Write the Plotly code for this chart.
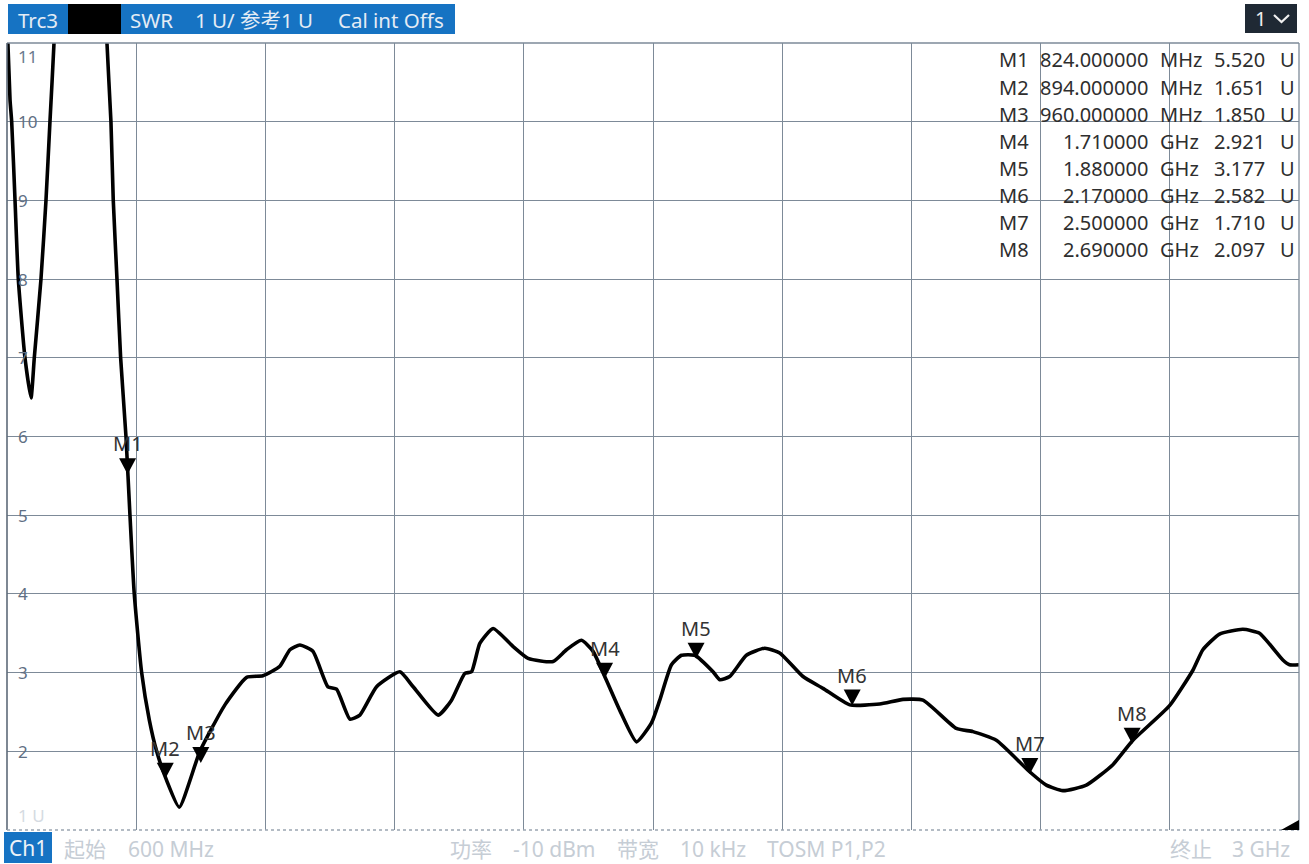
import plotly.graph_objects as go

# ---------------- data ----------------
freq_mhz = [600.0, 605.6, 608.7, 614.9, 621.0, 633.4, 644.6, 650.7, 663.1, 672.4, 679.8, 687.3,
            694.7, 735.0, 780.1,
            785.7, 793.1, 797.4, 804.3, 811.1, 821.0, 828.4, 836.4, 850.1, 864.3, 878.0, 896.5,
            919.9,
            958.4, 1004.8, 1045.1, 1075.4, 1106.9, 1125.5, 1144.1, 1168.2, 1196.1, 1212.2,
            1236.9, 1255.5, 1286.5, 1329.8, 1354.5, 1400.9, 1425.8, 1450.5, 1462.9, 1478.3,
            1503.0, 1540.2, 1568.0, 1614.4, 1639.3, 1667.2, 1688.7, 1710.4, 1738.3, 1769.3,
            1797.2, 1812.6, 1834.3, 1852.9, 1877.5, 1911.5, 1924.0, 1942.5, 1973.5, 2007.5,
            2035.4, 2078.7, 2115.8, 2165.4, 2221.1, 2264.4, 2301.5, 2363.5, 2394.4, 2437.8,
            2499.6, 2530.6, 2561.5, 2604.9, 2654.3, 2691.4, 2759.6, 2802.9, 2821.4, 2852.4,
            2895.7, 2926.7, 2970.0, 2982.4, 3000.0]
swr = [11.3, 10.28, 10.0, 9.0, 8.0, 7.0, 6.49, 7.0, 8.0, 9.0, 10.0, 11.0,
       12.5, 16.0, 12.5,
       11.0, 10.0, 9.0, 8.0, 7.0, 6.0, 5.0, 4.0, 3.0, 2.4, 2.0, 1.63,
       1.29,
       2.0, 2.59, 2.94, 2.96, 3.08, 3.29, 3.35, 3.27, 2.82, 2.79,
       2.41, 2.46, 2.82, 3.01, 2.82, 2.46, 2.65, 2.99, 3.01, 3.37,
       3.56, 3.33, 3.18, 3.14, 3.29, 3.41, 3.27, 2.95, 2.52, 2.12,
       2.36, 2.65, 3.10, 3.22, 3.22, 3.01, 2.91, 2.95, 3.22, 3.31,
       3.25, 2.95, 2.80, 2.59, 2.60, 2.66, 2.65, 2.29, 2.25, 2.14,
       1.74, 1.57, 1.50, 1.57, 1.83, 2.14, 2.58, 3.03, 3.29, 3.49,
       3.55, 3.50, 3.16, 3.10, 3.10]

marker_names = ["M1", "M2", "M3", "M4", "M5", "M6", "M7", "M8"]
marker_freq_mhz = [824, 894, 960, 1710, 1880, 2170, 2500, 2690]
marker_freq_text = ["824.000000", "894.000000", "960.000000", "1.710000",
                    "1.880000", "2.170000", "2.500000", "2.690000"]
marker_units = ["MHz", "MHz", "MHz", "GHz", "GHz", "GHz", "GHz", "GHz"]
marker_values = [5.520, 1.651, 1.850, 2.921, 3.177, 2.582, 1.710, 2.097]

y_tick_vals = [11, 10, 9, 8, 7, 6, 5, 4, 3, 2, 1]
y_tick_text = ["11", "10", "9", "8", "7", "6", "5", "4", "3", "2", "1 U"]
x_start, x_stop, x_div = 600, 3000, 240

header_trace = "Trc3"
header_info = ["SWR", "1 U/ 参考1 U", "Cal int Offs"]
footer_left = ["起始", "600 MHz"]
footer_mid = ["功率", "-10 dBm", "带宽", "10 kHz", "TOSM P1,P2"]
footer_right = ["终止", "3 GHz"]

# ---------------- layout helpers ----------------
W, H = 1309, 864
L, R, T, B = 7, 10, 43, 34
PW, PH = W - L - R, H - T - B
FONT = "Noto Sans, Noto Sans CJK SC, sans-serif"
GRID = "#7d8a98"


def X(px):
    return (px - L) / PW


def Y(py):
    return (H - B - py) / PH


fig = go.Figure()
fig.add_trace(go.Scatter(x=freq_mhz, y=swr, mode="lines",
                         line=dict(color="black", width=3.6, shape="spline", smoothing=0.5),
                         hoverinfo="skip", showlegend=False))

shapes = []
annotations = []

# plot border
shapes.append(dict(type="line", xref="paper", yref="paper", x0=0, x1=1, y0=1, y1=1,
                   line=dict(color=GRID, width=1.3)))
shapes.append(dict(type="line", xref="paper", yref="paper", x0=0, x1=0, y0=0, y1=1,
                   line=dict(color="#5d6a78", width=1.6)))
shapes.append(dict(type="line", xref="paper", yref="paper", x0=1, x1=1, y0=0, y1=1,
                   line=dict(color=GRID, width=1.3)))
shapes.append(dict(type="line", xref="paper", yref="paper", x0=0, x1=1, y0=0, y1=0,
                   line=dict(color="#9aa5b1", width=1.5, dash="dot")))

# y labels (white patches hide gridlines behind them)
for v, t in zip(y_tick_vals, y_tick_text):
    if v == y_tick_vals[0]:
        shift, col = -13, "#6a7a8e"
    elif v == y_tick_vals[-1]:
        shift, col = 15, "#d5dbe2"
    else:
        shift, col = 0, "#5f6f84"
        shapes.append(dict(type="rect", layer="between", xref="paper", yref="y",
                           xsizemode="pixel", ysizemode="pixel", xanchor=0, yanchor=v,
                           x0=6, x1=33, y0=-8, y1=8, fillcolor="white", line=dict(width=0)))
    annotations.append(dict(xref="paper", yref="y", x=X(16), y=v, text=t, showarrow=False,
                            xanchor="left", yanchor="middle", yshift=shift,
                            font=dict(family=FONT, size=17, color=col)))

# markers on trace
for n, f, v in zip(marker_names, marker_freq_mhz, marker_values):
    shapes.append(dict(type="path", xref="x", yref="y", xsizemode="pixel", ysizemode="pixel",
                       xanchor=f, yanchor=v, path="M-8.5,16 L8.5,16 L0,0 Z",
                       fillcolor="black", line=dict(width=0)))
    annotations.append(dict(xref="x", yref="y", x=f, y=v, text=n, showarrow=False,
                            xanchor="center", yanchor="bottom", yshift=15,
                            font=dict(family=FONT, size=20, color="#333333")))

# marker table
for i, (n, ft, u, v) in enumerate(zip(marker_names, marker_freq_text, marker_units, marker_values)):
    py = 60 + 27.1 * i
    common = dict(xref="paper", yref="paper", y=Y(py), showarrow=False, yanchor="middle",
                  font=dict(family=FONT, size=20, color="#2e2e2e"))
    annotations.append(dict(x=X(997), text=n, xanchor="left", **common))
    annotations.append(dict(x=X(1150), text=ft, xanchor="right", **common))
    annotations.append(dict(x=X(1158), text=u, xanchor="left", **common))
    annotations.append(dict(x=X(1267), text=f"{v:.3f}", xanchor="right", **common))
    annotations.append(dict(x=X(1278), text="U", xanchor="left", **common))

# header
BLUE = "#1673c3"
HTXT = "#e4ecf5"
shapes.append(dict(type="rect", xref="paper", yref="paper", x0=X(8), x1=X(455), y0=Y(34), y1=Y(4),
                   fillcolor=BLUE, line=dict(width=0)))
shapes.append(dict(type="rect", xref="paper", yref="paper", x0=X(68), x1=X(121), y0=Y(34), y1=Y(4),
                   fillcolor="black", line=dict(width=0)))
for t, px in [(header_trace, 16), (header_info[0], 128), (header_info[1], 193), (header_info[2], 336)]:
    annotations.append(dict(xref="paper", yref="paper", x=X(px), y=Y(20), text=t,
                            showarrow=False, xanchor="left", yanchor="middle",
                            font=dict(family=FONT, size=20.5, color=HTXT)))
shapes.append(dict(type="rect", xref="paper", yref="paper", x0=X(1245), x1=X(1297), y0=Y(33), y1=Y(4),
                   fillcolor="#1f2934", line=dict(width=0)))
annotations.append(dict(xref="paper", yref="paper", x=X(1268), y=Y(19), text="1",
                        showarrow=False, xanchor="right", yanchor="middle",
                        font=dict(family=FONT, size=20, color="#f0f0f0")))
shapes.append(dict(type="path", xref="paper", yref="paper",
                   path=f"M{X(1274)},{Y(15)} L{X(1281.5)},{Y(22)} L{X(1289)},{Y(15)}",
                   line=dict(color="#f0f0f0", width=2.2)))

# bottom-right corner indicator
shapes.append(dict(type="path", xref="paper", yref="paper",
                   path=f"M{X(1281)},{Y(830)} L{X(1299)},{Y(830)} L{X(1299)},{Y(820)} Z",
                   fillcolor="black", line=dict(width=0)))

# footer
shapes.append(dict(type="rect", xref="paper", yref="paper", x0=X(4), x1=X(52), y0=Y(863), y1=Y(832),
                   fillcolor=BLUE, line=dict(width=0)))
annotations.append(dict(xref="paper", yref="paper", x=X(28), y=Y(848), text="Ch1",
                        showarrow=False, xanchor="center", yanchor="middle",
                        font=dict(family=FONT, size=21, color="#eef3f8")))
FOOT = "#c6cdd5"
foot_items = [(footer_left[0], 62), (footer_left[1], 126),
              (footer_mid[0], 448), (footer_mid[1], 511), (footer_mid[2], 615),
              (footer_mid[3], 678), (footer_mid[4], 765),
              (footer_right[0], 1168), (footer_right[1], 1230)]
for t, px in foot_items:
    annotations.append(dict(xref="paper", yref="paper", x=X(px), y=Y(849), text=t,
                            showarrow=False, xanchor="left", yanchor="middle",
                            font=dict(family=FONT, size=21, color=FOOT)))

fig.update_layout(
    width=W, height=H,
    margin=dict(l=L, r=R, t=T, b=B, pad=0),
    paper_bgcolor="white", plot_bgcolor="white",
    showlegend=False,
    shapes=shapes, annotations=annotations,
    xaxis=dict(range=[x_start, x_stop], tickvals=list(range(x_start + x_div, x_stop, x_div)),
               showticklabels=False, ticks="", showgrid=True, gridcolor=GRID, gridwidth=1.3,
               zeroline=False, showline=False, fixedrange=True),
    yaxis=dict(range=[1, 11], tickvals=y_tick_vals[1:-1], showticklabels=False, ticks="",
               showgrid=True, gridcolor=GRID, gridwidth=1.3, zeroline=False, showline=False,
               fixedrange=True),
)

fig.write_html("out.html", config={"displayModeBar": False},
               post_script="document.body.style.margin='0';")
